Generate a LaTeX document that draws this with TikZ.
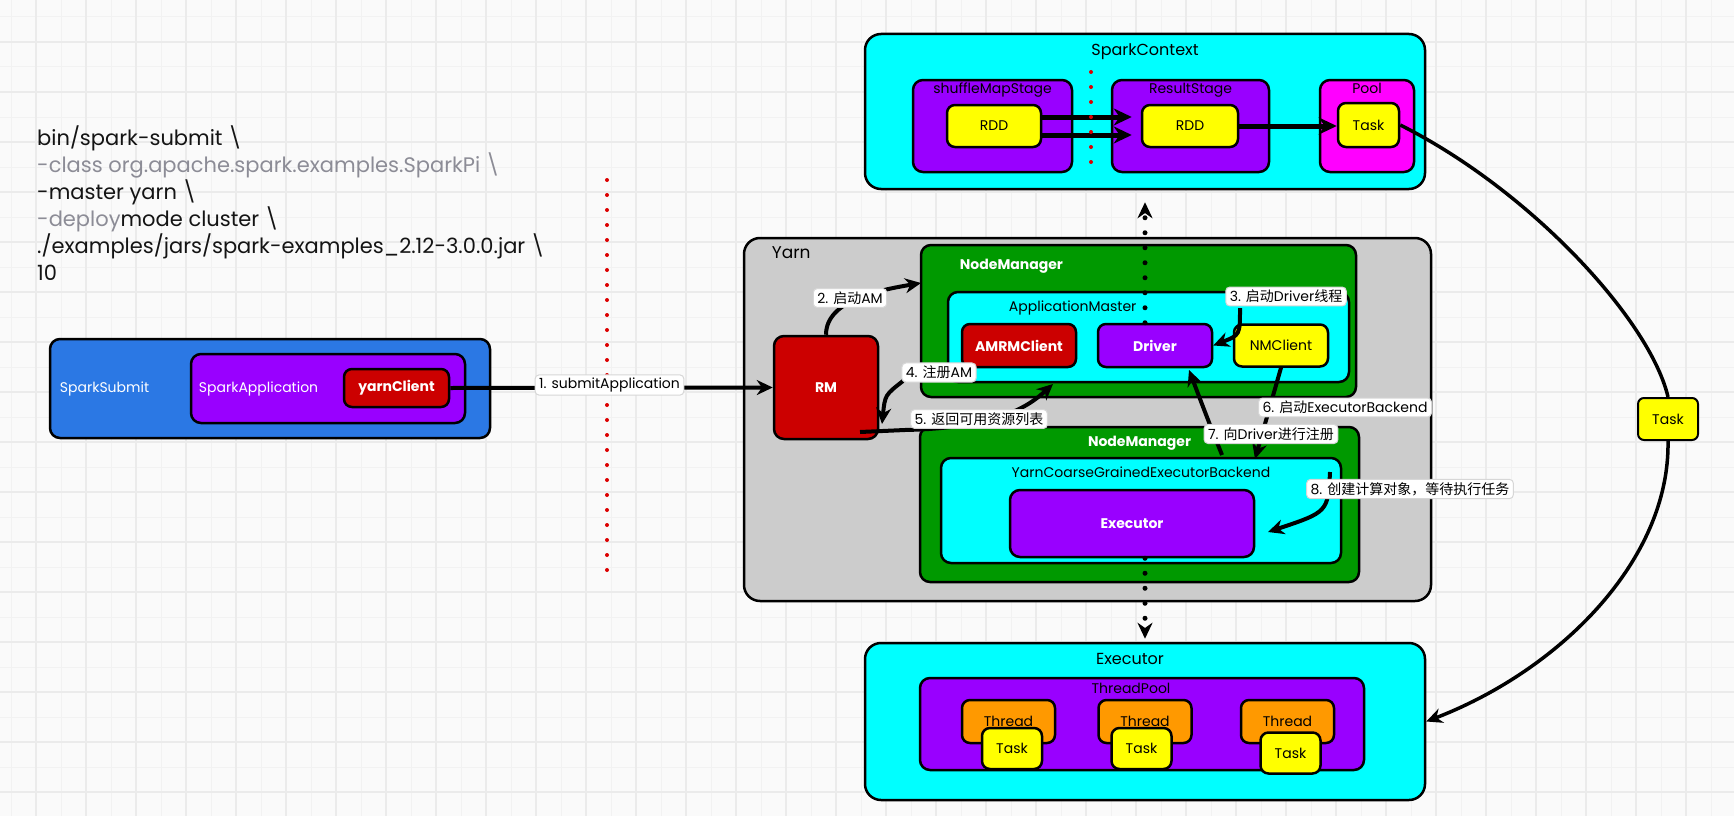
\documentclass[tikz,border=0pt]{standalone}
\usepackage{fontspec}
\setmainfont{Poppins}
\newfontfamily\cjk{Noto Sans CJK SC}
\usetikzlibrary{arrows.meta,positioning,calc}
\definecolor{BoxCyan}{RGB}{0, 255, 255}
\definecolor{BoxPurple}{RGB}{153, 0, 255}
\definecolor{BoxYellow}{RGB}{255, 255, 0}
\definecolor{BoxMagenta}{RGB}{255, 0, 255}
\definecolor{BoxGreen}{RGB}{0, 153, 0}
\definecolor{BoxRed}{RGB}{204, 0, 0}
\definecolor{BoxBlue}{RGB}{43, 120, 228}
\definecolor{BoxGray}{RGB}{204, 204, 204}
\definecolor{BoxOrange}{RGB}{255, 153, 0}
\definecolor{CodeGray}{RGB}{140, 140, 150}
\definecolor{InkBlack}{RGB}{20, 20, 20}
\definecolor{RedDot}{RGB}{220, 0, 0}
\definecolor{GridBg}{RGB}{250, 250, 250}
\definecolor{GridMinor}{RGB}{242, 242, 242}
\definecolor{GridMajor}{RGB}{235, 235, 235}
\definecolor{MsgBorder}{RGB}{215, 215, 215}
\newcommand{\zh}[1]{{\cjk #1}}

\begin{document}
\begin{tikzpicture}[x=1pt, y=-1pt,
    box/.style={draw=black, line width=2.5pt, rounded corners=10pt, inner sep=0pt},
    ttl/.style={inner sep=0pt, text height=10pt, text depth=3pt, font=\fontsize{14}{16}\selectfont},
    bigttl/.style={inner sep=0pt, text height=11pt, text depth=3pt, font=\fontsize{16}{18}\selectfont},
    ttxt/.style={font=\fontsize{14}{16}\selectfont},
    wtxt/.style={text=white, font=\fontsize{14}{16}\selectfont\bfseries},
    msg/.style={fill=white, draw=MsgBorder, line width=1pt, rounded corners=4pt, inner xsep=4pt, inner ysep=3pt, font=\fontsize{14}{16}\selectfont},
    arr/.style={draw=black, line width=4pt, -{Stealth[length=16pt,width=15pt]}},
    fatarr/.style={draw=black, line width=5pt, -{Stealth[length=18pt,width=17pt]}},
    dotarr/.style={draw=black, line width=5pt, line cap=round, dash pattern=on 0pt off 15pt, -{Stealth[length=16pt,width=15pt]}},
    reddots/.style={draw=RedDot, line width=4pt, line cap=round, dash pattern=on 0pt off 15pt},
    curve/.style={draw=black, line width=3.5pt},
  ]
  \useasboundingbox (0,0) rectangle (1734,816);

  % grid paper
  \fill[GridBg] (0,0) rectangle (1734,816);
  \begin{scope}[shift={(11,17)}]
    \draw[GridMinor, line width=1pt, step=25pt] (-25,825) grid (1750,-25);
  \end{scope}
  \begin{scope}[shift={(36,42)}]
    \draw[GridMajor, line width=1.2pt, step=50pt] (-50,850) grid (1750,-50);
  \end{scope}

  % submit command
  \node[anchor=north west, align=left, inner sep=0pt, text=InkBlack, font=\fontsize{21}{27}\selectfont] (cmd) at (37,126) {bin/spark-submit \textbackslash\\
    {\color{CodeGray}-class org.apache.spark.examples.SparkPi \textbackslash}\\
    -master yarn \textbackslash\\
    {\color{CodeGray}-deploy}mode cluster \textbackslash\\
    ./examples/jars/spark-examples\_2.12-3.0.0.jar \textbackslash\\
    10};

  % client side
  \node[box, fill=BoxBlue, minimum width=440pt, minimum height=99pt] (ss) at (270,388.5) {};
  \node[ttl, text=white, right=11pt of ss.west] (ssT) {SparkSubmit};
  \node[box, fill=BoxPurple, minimum width=274pt, minimum height=69pt] (sa) at (328,388.5) {};
  \node[ttl, text=white, right=9pt of sa.west] (saT) {SparkApplication};
  \node[box, fill=BoxRed, rounded corners=8pt, minimum width=105pt, minimum height=38pt, wtxt] (yc) at (396.5,388) {yarnClient};

  \draw[reddots] (607,180) -- (607,575);

  % Yarn cluster
  \node[box, fill=BoxGray, rounded corners=16pt, minimum width=687pt, minimum height=363pt] (yarn) at (1087.5,419.5) {};
  \node[bigttl, font=\fontsize{17}{19}\selectfont, below right=11pt and 29pt of yarn.north west] (yarnT) {Yarn};
  \node[box, fill=BoxRed, minimum width=104pt, minimum height=103pt, wtxt] (rm) at (826,387.5) {RM};

  \node[box, fill=BoxGreen, minimum width=435pt, minimum height=152pt] (nm1) at (1138.5,321) {};
  \node[ttl, wtxt, below right=15.5pt and 40pt of nm1.north west] (nm1T) {NodeManager};
  \node[box, fill=BoxCyan, minimum width=401pt, minimum height=90pt] (am) at (1148.5,337) {};
  \node[ttl, below right=10.5pt and 62pt of am.north west] (amT) {ApplicationMaster};
  \node[box, fill=BoxRed, rounded corners=8pt, minimum width=114pt, minimum height=43pt, wtxt] (amrm) at (1019,345.5) {AMRMClient};
  \node[box, fill=BoxPurple, rounded corners=8pt, minimum width=114pt, minimum height=43pt, wtxt] (drv) at (1155,345.5) {Driver};
  \node[box, fill=BoxYellow, rounded corners=8pt, minimum width=94pt, minimum height=42pt, ttxt] (nmc) at (1281,345.5) {NMClient};

  \node[box, fill=BoxGreen, minimum width=439pt, minimum height=155pt] (nm2) at (1139.5,504.5) {};
  \node[ttl, wtxt, below=10.5pt of nm2.north] (nm2T) {NodeManager};
  \node[box, fill=BoxCyan, minimum width=400pt, minimum height=105pt] (ycg) at (1141,510.5) {};
  \node[ttl, below=10.5pt of ycg.north] (ycgT) {YarnCoarseGrainedExecutorBackend};
  \node[box, fill=BoxPurple, minimum width=244pt, minimum height=67pt, wtxt] (exe) at (1132,523.5) {Executor};

  % SparkContext
  \node[box, fill=BoxCyan, rounded corners=16pt, minimum width=560pt, minimum height=155pt] (sc) at (1145,111.5) {};
  \node[bigttl, below=11.5pt of sc.north] (scT) {SparkContext};
  \node[box, fill=BoxPurple, minimum width=159pt, minimum height=92pt] (sms) at (992.5,126) {};
  \node[ttl, below=4.5pt of sms.north] (smsT) {shuffleMapStage};
  \node[box, fill=BoxYellow, rounded corners=8pt, minimum width=94pt, minimum height=42pt, ttxt] (rddA) at (994,126) {RDD};
  \node[box, fill=BoxPurple, minimum width=157pt, minimum height=92pt] (rs) at (1190.5,126) {};
  \node[ttl, below=4.5pt of rs.north] (rsT) {ResultStage};
  \node[box, fill=BoxYellow, rounded corners=8pt, minimum width=96pt, minimum height=42pt, ttxt] (rddB) at (1190,126) {RDD};
  \node[box, fill=BoxMagenta, minimum width=94pt, minimum height=92pt] (pool) at (1367,126) {};
  \node[ttl, below=4.5pt of pool.north] (poolT) {Pool};
  \node[box, fill=BoxYellow, rounded corners=8pt, minimum width=61pt, minimum height=44pt, ttxt] (ptask) at (1368.5,125) {Task};

  \draw[fatarr, shorten >=9pt] ([yshift=9pt]rddA.east) -- ([yshift=9pt]rddA.east -| rddB.west);
  \draw[fatarr, shorten >=9pt] ([yshift=-9pt]rddA.east) -- ([yshift=-9pt]rddA.east -| rddB.west);
  \draw[fatarr] (rddB.east) -- (rddB.east -| ptask.west);
  \draw[reddots] (1091,72) -- (1091,166);

  % executor
  \node[box, fill=BoxCyan, rounded corners=16pt, minimum width=560pt, minimum height=157pt] (exo) at (1145,721.5) {};
  \node[bigttl, below=11.5pt of exo.north, xshift=-15pt] (exoT) {Executor};
  \node[box, fill=BoxPurple, minimum width=444pt, minimum height=92pt] (tp) at (1142,724) {};
  \node[ttl, below=6.5pt of tp.north, xshift=-11pt] (tpT) {ThreadPool};
  \node[box, fill=BoxOrange, rounded corners=8pt, minimum width=93pt, minimum height=43pt, ttxt] (thrA) at (1008.5,721.5) {Thread};
  \node[box, fill=BoxYellow, rounded corners=8pt, minimum width=60pt, minimum height=41pt, ttxt] (taskA) at (1012,748.5) {Task};
  \node[box, fill=BoxOrange, rounded corners=8pt, minimum width=93pt, minimum height=43pt, ttxt] (thrB) at (1145,721.5) {Thread};
  \node[box, fill=BoxYellow, rounded corners=8pt, minimum width=60pt, minimum height=41pt, ttxt] (taskB) at (1141.5,748.5) {Task};
  \node[box, fill=BoxOrange, rounded corners=8pt, minimum width=93pt, minimum height=43pt, ttxt] (thrC) at (1287.5,721.5) {Thread};
  \node[box, fill=BoxYellow, rounded corners=8pt, minimum width=60pt, minimum height=41pt, ttxt] (taskC) at (1290.5,753) {Task};

  % free ends of the steps
  \coordinate (c2) at (921,283);
  \coordinate (c3) at (1240,308);
  \coordinate (c4a) at (903,381);
  \coordinate (c4b) at (882,424);
  \coordinate (c5a) at (860,432);
  \coordinate (c5b) at (905,430);
  \coordinate (c5c) at (1053,384);
  \coordinate (c6) at (1255,459);
  \coordinate (c7a) at (1222,455);
  \coordinate (c7b) at (1189,370);
  \coordinate (c8a) at (1330,472);
  \coordinate (c8b) at (1268,532);

  \draw[arr] (yc.east) -- (rm.west);
  \draw[arr] (rm.north) .. controls (826,300) and (880,290) .. (c2);
  \draw[arr] (c3) .. controls (1240,335) .. (drv.east);
  \draw[arr] (c4a) .. controls (885,395) .. (c4b);
  \draw[arr] (c5a) -- (c5b) .. controls (1000,428) and (1030,405) .. (c5c);
  \draw[arr] (nmc.south) -- (c6);
  \draw[arr] (c7a) .. controls (1208,420) .. (c7b);
  \draw[arr] (c8a) .. controls (1328,512) .. (c8b);

  \draw[dotarr] (drv.north -| sc.south) -- ([yshift=-12pt]sc.south);
  \draw[dotarr] (exe.south -| exo.north) -- ([yshift=3pt]exo.north);

  \node[msg] (l1) at (609.5,385) {1. submitApplication};
  \node[msg] (l2) at (850,298) {2. \zh{启动}AM};
  \node[msg] (l3) at (1286,296.5) {3. \zh{启动}Driver\zh{线程}};
  \node[msg] (l4) at (939,372.5) {4. \zh{注册}AM};
  \node[msg] (l5) at (979,419) {5. \zh{返回可用资源列表}};
  \node[msg] (l6) at (1345,407.5) {6. \zh{启动}ExecutorBackend};
  \node[msg] (l7) at (1271,434) {7. \zh{向}Driver\zh{进行注册}};
  \node[msg] (l8) at (1410,489) {8. \zh{创建计算对象，等待执行任务}};

  % task handed to the executor
  \node[box, fill=BoxYellow, rounded corners=6pt, line width=2pt, minimum width=60pt, minimum height=42pt, ttxt] (tmsg) at (1668,419) {Task};
  \draw[curve] (ptask.east) .. controls (1530,190) and (1650,320) .. (tmsg.north);
  \draw[curve, -{Stealth[length=16pt,width=15pt]}] (tmsg.south) .. controls (1670,560) and (1560,670) .. (exo.east);
\end{tikzpicture}
\end{document}
